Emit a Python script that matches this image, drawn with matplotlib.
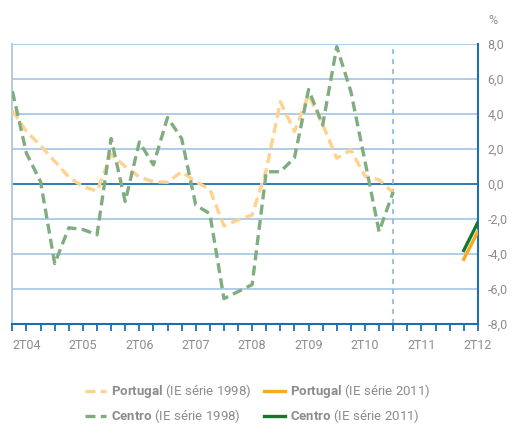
import matplotlib.pyplot as plt
import numpy as np

plt.rcParams['font.family'] = ['Roboto', 'DejaVu Sans']
plt.rcParams['mathtext.fontset'] = 'custom'
plt.rcParams['mathtext.bf'] = 'Roboto:bold'
plt.rcParams['mathtext.rm'] = 'Roboto'

# quarters from 1T04 (index 0) to 2T12 (index 33)
quarters = [f'{q}T{y:02d}' for y in range(4, 13) for q in range(1, 5)][:34]
tick_labels = ['2T04', '2T05', '2T06', '2T07', '2T08', '2T09', '2T10', '2T11', '2T12']

# IE série 1998, 1T04 .. 4T10
portugal_1998 = [4.2, 3.0, 2.2, 1.3, 0.4, -0.15, -0.4, 1.7, 1.0, 0.4,
                 0.13, 0.1, 0.7, 0.13, -0.3, -2.4, -2.05, -1.77, 0.8, 4.7,
                 3.0, 5.1, 3.4, 1.47, 1.95, 0.45, 0.25, -0.5]
centro_1998 = [5.3, 1.75, 0.13, -4.55, -2.5, -2.6, -2.9, 2.6, -1.0, 2.4,
               1.1, 3.8, 2.6, -1.2, -1.7, -6.55, -6.15, -5.75, 0.7, 0.7,
               1.5, 5.4, 3.37, 7.85, 5.28, 1.3, -2.72, -0.45]
# IE série 2011, 1T12 .. 2T12
portugal_2011 = [-4.3, -2.72]
centro_2011 = [-3.8, -2.2]

idx_1998 = np.arange(len(portugal_1998))
idx_2011 = np.arange(32, 34)

fig = plt.figure(figsize=(5.16, 4.26), dpi=100)
ax = fig.add_axes([0.024, 0.2394, 0.902, 0.6573])

grid_c = '#a9c9e4'
dark_blue = '#1f6fae'
for v in np.arange(-8, 9, 2):
    ax.axhline(v, color=dark_blue if v == 0 else grid_c, lw=1.3, zorder=1)
ax.axvline(27, color='#8ab8de', lw=1.2, ls=(0, (3, 3)), zorder=1)

p98, = ax.plot(idx_1998, portugal_1998, color='#ffd28f', lw=2.4, ls=(0, (3, 1.6)),
               label=r'$\mathbf{Portugal}$ (IE série 1998)', zorder=3)
p11, = ax.plot(idx_2011, portugal_2011, color='#f8a91e', lw=2.4,
               label=r'$\mathbf{Portugal}$ (IE série 2011)', zorder=4)
c98, = ax.plot(idx_1998, centro_1998, color='#80ad80', lw=2.4, ls=(0, (3, 1.6)),
               label=r'$\mathbf{Centro}$ (IE série 1998)', zorder=3)
c11, = ax.plot(idx_2011, centro_2011, color='#14782c', lw=2.4,
               label=r'$\mathbf{Centro}$ (IE série 2011)', zorder=4)

ax.set_xlim(0, 33)
ax.set_ylim(-8, 8)

ax.set_xticks(np.arange(34))
ax.set_xticklabels([q if q in tick_labels else '' for q in quarters])
ax.tick_params(axis='x', direction='out', length=5, width=1.3, color=dark_blue,
               labelsize=9, labelcolor='#8c8c8c', pad=6)

ax.yaxis.tick_right()
ax.set_yticks(np.arange(-8, 9, 2))
ax.set_yticklabels([f'{v:.1f}'.replace('.', ',') for v in np.arange(-8, 9, 2)])
ax.tick_params(axis='y', length=0, labelsize=9, labelcolor='#8c8c8c', pad=7)

ax.spines['top'].set_visible(False)
ax.spines['left'].set_color(grid_c)
ax.spines['left'].set_linewidth(1.3)
ax.spines['right'].set_color(dark_blue)
ax.spines['right'].set_linewidth(1.5)
ax.spines['bottom'].set_color(dark_blue)
ax.spines['bottom'].set_linewidth(1.5)

fig.text(0.955, 0.952, '%', fontsize=9, color='#8c8c8c', ha='center', va='center')

handles = [p98, c98, p11, c11]
leg = fig.legend(handles, [h.get_label() for h in handles], ncol=2, loc='center',
                 bbox_to_anchor=(0.5, 0.052), frameon=False, fontsize=9.5,
                 handlelength=1.6, handletextpad=0.4, columnspacing=0.9,
                 labelspacing=0.55)
for t in leg.get_texts():
    t.set_color('#8c8c8c')

fig.savefig('out.png', dpi=100)
